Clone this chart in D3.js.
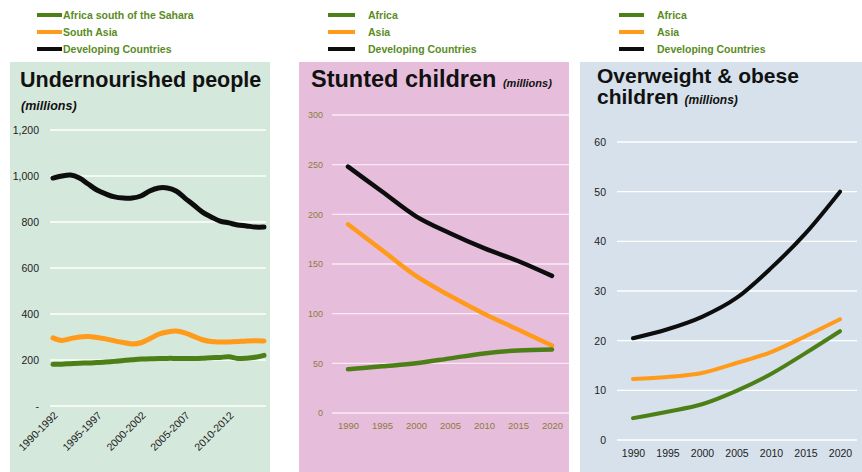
<!DOCTYPE html>
<html><head><meta charset="utf-8">
<script src="https://cdn.jsdelivr.net/npm/d3@7"></script>
<style>body{margin:0;background:#fff}svg{display:block;font-family:"Liberation Sans",Arial,sans-serif}</style>
</head><body><svg id="c" width="862" height="472"></svg>
<script>
// ---------- Data ----------
const periods1 = ["1990-1992","1991-1993","1992-1994","1993-1995","1994-1996","1995-1997","1996-1998","1997-1999","1998-2000","1999-2001","2000-2002","2001-2003","2002-2004","2003-2005","2004-2006","2005-2007","2006-2008","2007-2009","2008-2010","2009-2011","2010-2012","2011-2013","2012-2014","2013-2015","2014-2016"];
const shownPeriods1 = ["1990-1992","1995-1997","2000-2002","2005-2007","2010-2012"];
const underDeveloping = [991,1000,1004,991,965,939,922,909,904,904,913,935,948,948,935,904,874,843,822,804,796,787,783,778,778];
const underSouthAsia = [296,285,293,300,302,298,292,283,276,270,275,292,312,322,326,318,303,288,280,278,278,280,283,284,283];
const underAfricaSS = [181,182,184,186,187,189,191,194,198,201,204,205,206,207,207,207,207,208,210,211,214,207,208,212,220];
const ticks1 = [0,200,400,600,800,1000,1200];
const tickLabels1 = ["-","200","400","600","800","1,000","1,200"];

const years = [1990,1995,2000,2005,2010,2015,2020];
const stuntDeveloping = [248,223,198,181,166,153,138];
const stuntAsia = [190,164,138,118,100,84,68];
const stuntAfrica = [44,47,50,55,60,63,64];
const ticks2 = [0,50,100,150,200,250,300];

const overDeveloping = [20.5,22.3,24.8,28.6,34.6,41.6,50];
const overAsia = [12.3,12.7,13.5,15.5,17.7,20.9,24.3];
const overAfrica = [4.4,5.7,7.2,9.9,13.3,17.5,21.9];
const ticks3 = [0,10,20,30,40,50,60];

const legend1 = ["Africa south of the Sahara","South Asia","Developing Countries"];
const legend2 = ["Africa","Asia","Developing Countries"];

const GREEN="#4d7f17", ORANGE="#ff9a1a", BLACK="#0d0d0d";
const svg = d3.select("#c");

function legend(items, x1, x2, tx){
  const cols=[GREEN,ORANGE,BLACK];
  items.forEach((t,i)=>{
    const y=15+i*17;
    svg.append("line").attr("x1",x1).attr("x2",x2).attr("y1",y).attr("y2",y)
      .attr("stroke",cols[i]).attr("stroke-width",4);
    svg.append("text").attr("x",tx).attr("y",y+4).attr("font-size",10.5).attr("font-weight","bold")
      .attr("fill","#5a8c1f").text(t);
  });
}

// ---------- Panel 1 ----------
svg.append("rect").attr("x",10).attr("y",62).attr("width",260).attr("height",410).attr("fill","#d5e8dc");
svg.append("text").attr("x",20).attr("y",87).attr("font-size",21.5).attr("font-weight","bold").attr("fill","#111").text("Undernourished people");
svg.append("text").attr("x",21).attr("y",110).attr("font-size",12.5).attr("font-weight","bold").attr("font-style","italic").attr("fill","#111").text("(millions)");
legend(legend1,37,62,63);
const x1 = d3.scalePoint().domain(periods1).range([53,264]);
const y1 = d3.scaleLinear().domain([0,1200]).range([406,130]);
const g1 = svg.append("g");
g1.selectAll(".gl").data(ticks1).join("line").attr("x1",50).attr("x2",266)
  .attr("y1",d=>y1(d)).attr("y2",d=>y1(d)).attr("stroke","#fff").attr("stroke-width",1.3);
g1.append("g").attr("transform","translate(42,0)")
  .call(d3.axisLeft(y1).tickValues(ticks1).tickSize(0).tickFormat((d,i)=>tickLabels1[i]))
  .call(a=>{a.select(".domain").remove();a.selectAll("text").attr("font-size",10.5).attr("fill","#222").attr("font-family","Liberation Sans, Arial");});
g1.append("g").attr("transform","translate(0,412)")
  .call(d3.axisBottom(x1).tickValues(shownPeriods1).tickSize(0).tickPadding(0))
  .call(a=>{a.select(".domain").remove();
    a.selectAll("text").attr("font-size",10.5).attr("fill","#222").attr("font-family","Liberation Sans, Arial")
     .attr("text-anchor","end").attr("dy",0).attr("transform","translate(5,4) rotate(-45)");});
const line1 = d3.line().x((d,i)=>x1(periods1[i])).y(d=>y1(d)).curve(d3.curveCatmullRom);
[[underAfricaSS,GREEN],[underSouthAsia,ORANGE],[underDeveloping,BLACK]].forEach(([s,c])=>{
  g1.append("path").attr("d",line1(s)).attr("fill","none").attr("stroke",c).attr("stroke-width",5).attr("stroke-linecap","round").attr("stroke-linejoin","round");
});

// ---------- Panel 2 ----------
svg.append("rect").attr("x",299).attr("y",62).attr("width",270).attr("height",410).attr("fill","#e6bedc");
const t2 = svg.append("text").attr("x",311).attr("y",87).attr("font-size",23.5).attr("font-weight","bold").attr("fill","#111");
t2.append("tspan").text("Stunted children ");
t2.append("tspan").attr("font-size",11).attr("font-style","italic").text("(millions)");
legend(legend2,328,355,368);
const x2 = d3.scaleLinear().domain([1990,2020]).range([348,552]);
const y2 = d3.scaleLinear().domain([0,300]).range([413,115]);
const g2 = svg.append("g");
g2.selectAll(".gl").data(ticks2).join("line").attr("x1",332).attr("x2",569)
  .attr("y1",d=>y2(d)).attr("y2",d=>y2(d)).attr("stroke","#fbeaf6").attr("stroke-width",1.3);
g2.append("g").attr("transform","translate(326,0)")
  .call(d3.axisLeft(y2).tickValues(ticks2).tickSize(0))
  .call(a=>{a.select(".domain").remove();a.selectAll("text").attr("font-size",9).attr("fill","#8d7b3c").attr("font-family","Liberation Sans, Arial");});
g2.append("g").attr("transform","translate(0,419)")
  .call(d3.axisBottom(x2).tickValues(years).tickSize(0).tickFormat(d3.format("d")))
  .call(a=>{a.select(".domain").remove();a.selectAll("text").attr("font-size",9.5).attr("fill","#8d7b3c").attr("font-family","Liberation Sans, Arial");});
const line2 = d3.line().x((d,i)=>x2(years[i])).y(d=>y2(d)).curve(d3.curveMonotoneX);
[[stuntAsia,ORANGE],[stuntAfrica,GREEN],[stuntDeveloping,BLACK]].forEach(([s,c])=>{
  g2.append("path").attr("d",line2(s)).attr("fill","none").attr("stroke",c).attr("stroke-width",4.5).attr("stroke-linecap","round").attr("stroke-linejoin","round");
});

// ---------- Panel 3 ----------
svg.append("rect").attr("x",580).attr("y",62).attr("width",282).attr("height",410).attr("fill","#d6e1eb");
svg.append("text").attr("x",597).attr("y",83).attr("font-size",21).attr("font-weight","bold").attr("fill","#111").text("Overweight & obese");
const t3 = svg.append("text").attr("x",597).attr("y",104).attr("font-size",21).attr("font-weight","bold").attr("fill","#111");
t3.append("tspan").text("children ");
t3.append("tspan").attr("font-size",12).attr("font-style","italic").text("(millions)");
legend(legend2,619,644,657);
const x3 = d3.scaleLinear().domain([1990,2020]).range([633,840]);
const y3 = d3.scaleLinear().domain([0,60]).range([440,142]);
const g3 = svg.append("g");
g3.selectAll(".gl").data(ticks3).join("line").attr("x1",617).attr("x2",857)
  .attr("y1",d=>y3(d)).attr("y2",d=>y3(d)).attr("stroke","#fff").attr("stroke-width",1.3);
g3.append("g").attr("transform","translate(609,0)")
  .call(d3.axisLeft(y3).tickValues(ticks3).tickSize(0))
  .call(a=>{a.select(".domain").remove();a.selectAll("text").attr("font-size",10.5).attr("fill","#222").attr("font-family","Liberation Sans, Arial");});
g3.append("g").attr("transform","translate(0,447)")
  .call(d3.axisBottom(x3).tickValues(years).tickSize(0).tickFormat(d3.format("d")))
  .call(a=>{a.select(".domain").remove();a.selectAll("text").attr("font-size",10.5).attr("fill","#222").attr("font-family","Liberation Sans, Arial");});
const line3 = d3.line().x((d,i)=>x3(years[i])).y(d=>y3(d)).curve(d3.curveMonotoneX);
[[overAfrica,GREEN],[overAsia,ORANGE],[overDeveloping,BLACK]].forEach(([s,c])=>{
  g3.append("path").attr("d",line3(s)).attr("fill","none").attr("stroke",c).attr("stroke-width",4).attr("stroke-linecap","round").attr("stroke-linejoin","round");
});
</script></body></html>
